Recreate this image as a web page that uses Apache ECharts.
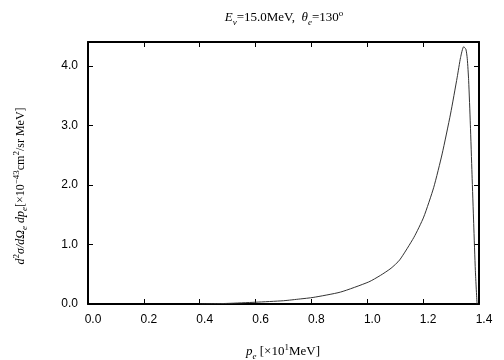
<!DOCTYPE html>
<html>
<head>
<meta charset="utf-8">
<script src="https://cdn.jsdelivr.net/npm/echarts@6/dist/echarts.min.js"></script>
<style>
  html, body { margin: 0; padding: 0; background: #fff; }
  #chart { width: 504px; height: 360px; }
</style>
</head>
<body>
<div id="chart"></div>
<script>
// electron momentum p_e [x10 MeV] and cross section [x10^-43 cm^2/sr MeV]
const pe = [0.40, 0.45, 0.50, 0.60, 0.70, 0.76, 0.806, 0.904, 1.005, 1.047, 1.085, 1.116, 1.167, 1.202, 1.238, 1.268, 1.298, 1.322, 1.334, 1.345, 1.353, 1.358, 1.363, 1.369, 1.375, 1.381, 1.387, 1.393];
const xsec = [0.0, 0.005, 0.01, 0.03, 0.055, 0.085, 0.11, 0.20, 0.37, 0.48, 0.60, 0.74, 1.12, 1.46, 1.96, 2.52, 3.19, 3.81, 4.14, 4.32, 4.28, 4.12, 3.75, 3.02, 2.18, 1.35, 0.56, 0.0];
const xTicks = { min: 0, max: 1.4, interval: 0.2 };
const yTicks = { min: 0, max: 4.4, interval: 1.0 };

const serif = '"Liberation Serif", "DejaVu Serif", serif';
const sans = '"Liberation Sans", Arial, sans-serif';

const chart = echarts.init(document.getElementById('chart'));

const frameAxis = (extra) => Object.assign({
  type: 'value',
  axisLine: { show: true, onZero: false, lineStyle: { color: '#000', width: 2 } },
  axisTick: { show: true, inside: true, length: 5, lineStyle: { color: '#000', width: 1 } },
  splitLine: { show: false },
}, extra);

// rich text styles for math-like labels
const mathRich = (size, small) => ({
  i: { fontFamily: serif, fontStyle: 'italic', fontSize: size, lineHeight: size + 5, verticalAlign: 'middle', fill: '#000' },
  r: { fontFamily: serif, fontSize: size, lineHeight: size + 5, verticalAlign: 'middle', fill: '#000' },
  sub: { fontFamily: serif, fontStyle: 'italic', fontSize: small, lineHeight: size + 5, verticalAlign: 'bottom', fill: '#000' },
  sup: { fontFamily: serif, fontSize: small, lineHeight: size + 5, verticalAlign: 'top', fill: '#000' },
});

const option = {
  animation: false,
  grid: { left: 88, right: 25, top: 42, bottom: 56 },
  xAxis: [
    frameAxis({
      ...xTicks, position: 'bottom',
      axisLabel: { color: '#000', fontSize: 12, fontFamily: sans, margin: 10, padding: [0, 0, 0, 10], formatter: v => v.toFixed(1) },
    }),
    frameAxis({ ...xTicks, position: 'top', axisLabel: { show: false } }),
  ],
  yAxis: [
    frameAxis({
      ...yTicks, position: 'left',
      axisLabel: { color: '#000', fontSize: 12, fontFamily: sans, margin: 10, showMaxLabel: false, formatter: v => v.toFixed(1) },
    }),
    frameAxis({ ...yTicks, position: 'right', axisLabel: { show: false } }),
  ],
  graphic: [
    {
      type: 'text', x: 284, y: 18,
      style: {
        text: '{i|E}{sub|ν}{r|=15.0MeV,  }{i|θ}{sub|e}{r|=130}{sup|o}',
        align: 'center', verticalAlign: 'middle',
        rich: mathRich(13, 9),
      },
    },
    {
      type: 'text', x: 283, y: 352,
      style: {
        text: '{i|p}{sub|e}{r| [×10}{sup|1}{r|MeV]}',
        align: 'center', verticalAlign: 'middle',
        rich: mathRich(13, 9),
      },
    },
    {
      type: 'text', x: 21, y: 186, rotation: Math.PI / 2,
      style: {
        text: '{i|d}{sup|2}{i|σ/dΩ}{sub|e}{r| }{i|dp}{sub|e}{r|[×10}{sup|−43}{r|cm}{sup|2}{r|/sr MeV]}',
        align: 'center', verticalAlign: 'middle',
        rich: mathRich(12, 9),
      },
    },
  ],
  series: [{
    type: 'line',
    data: pe.map((x, i) => [x, xsec[i]]),
    smooth: 0.2,
    symbol: 'none',
    lineStyle: { color: '#333', width: 1 },
  }],
};

chart.setOption(option);
window.addEventListener('resize', () => chart.resize());
</script>
</body>
</html>
